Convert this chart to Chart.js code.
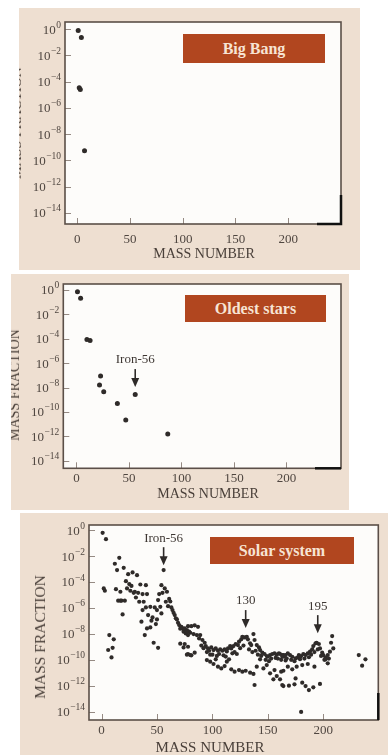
<!DOCTYPE html>
<html>
<head>
<meta charset="utf-8">
<script src="https://cdn.jsdelivr.net/npm/chart.js@4/dist/chart.umd.min.js"></script>
<style>
body{margin:0;background:#fff;width:388px;height:755px;overflow:hidden;position:relative;font-family:"Liberation Serif",serif}
.panel{position:absolute;background:#eedfd1;overflow:hidden}
.panel canvas{position:absolute;left:0;top:0}
.tag{position:absolute;background:#b1461f;color:#f7e4d4;font-weight:bold;font-size:16px;display:flex;align-items:center;justify-content:center}
.xt,.yt{position:absolute;font-size:14px;color:#4a403a;white-space:nowrap;transform:translate(-50%,-50%)}
.yt{transform:translate(-50%,-50%) rotate(-90deg)}
</style>
</head>
<body>

<div class="panel" id="p1" style="left:19px;top:8px;width:341px;height:262px">
  <canvas id="c1" width="341" height="262"></canvas>
  <div class="tag" style="left:164px;top:26px;width:142px;height:29px">Big Bang</div>
  <div class="xt" style="left:185px;top:246px">MASS NUMBER</div>
  <div class="yt" style="left:-2px;top:115px">MASS FRACTION</div>
</div>

<div class="panel" id="p2" style="left:11px;top:274px;width:338px;height:236px">
  <canvas id="c2" width="338" height="236"></canvas>
  <div class="tag" style="left:174px;top:21px;width:141px;height:27px">Oldest stars</div>
  <div class="xt" style="left:197px;top:220px">MASS NUMBER</div>
  <div class="yt" style="left:4px;top:111px">MASS FRACTION</div>
</div>

<div class="panel" id="p3" style="left:20px;top:513px;width:368px;height:242px">
  <canvas id="c3" width="368" height="242"></canvas>
  <div class="tag" style="left:190px;top:24px;width:144px;height:27px">Solar system</div>
  <div class="xt" style="left:190px;top:234px;font-size:15px">MASS NUMBER</div>
  <div class="yt" style="left:20px;top:124px;font-size:15.5px">MASS FRACTION</div>
</div>

<script>
// mass number + log10(mass fraction)
var bigBangMass = [1, 4, 2, 3, 7];
var bigBangLog = [-0.1, -0.64, -4.45, -4.6, -9.25];

var oldMass = [1, 4, 10, 13, 23, 22, 26, 39, 47, 56, 87];
var oldLog = [-0.14, -0.68, -4.05, -4.15, -7.05, -7.8, -8.34, -9.3, -10.66, -8.56, -11.8];

var solarMass = [
  1, 4, 2, 3, 6, 7, 9, 10, 11,
  12, 13, 14, 15, 16, 17, 17, 18, 19, 20, 21, 22, 23, 24, 25, 26, 27, 28, 29, 30,
  31, 32, 33, 34, 35, 36, 37, 37, 38, 39, 40, 40, 41, 41, 42, 44, 44, 45, 46, 47,
  48, 49, 50, 50, 51, 51, 52, 53, 54, 54, 55, 56, 57, 58, 59, 60, 61, 62, 63, 64,
  65, 66, 67, 68, 69, 70, 71, 72, 73, 74, 74, 75, 76, 77, 78, 78, 79, 71, 77, 81,
  75, 78, 81, 84, 87, 77, 80, 83, 86, 89, 88, 91, 93, 94, 96, 99, 101, 103, 105, 107,
  109, 111, 113, 114, 116, 117, 119, 121, 123, 124, 126, 127, 129, 131, 132, 134, 135, 137, 138, 140,
  142, 143, 145, 147, 149, 150, 152, 154, 156, 158, 160, 161, 163, 165,
  78, 75, 84, 80, 95, 98, 101, 103, 105, 108, 111, 113, 115, 117, 120, 124, 127, 130, 134, 137,
  138, 140, 143, 146, 149, 152, 155, 158, 161, 164, 156, 162,
  100, 104, 106, 110, 112, 118, 120, 122, 125, 128, 133, 136, 139, 141, 144, 148, 151, 153, 157, 159,
  162, 166, 90, 92, 95, 97, 98,
  164, 163, 166, 168, 170, 172, 175, 177, 178, 180, 182, 184, 186, 188, 190, 191, 193, 194, 196, 197,
  199, 200, 202, 204, 206, 207, 208, 209,
  167, 171, 174, 179, 183, 187, 189, 192, 195, 198, 201, 205,
  164, 168, 172, 176, 181, 186, 192, 204, 202, 175, 181, 184, 187, 191, 197, 163, 169, 174, 180,
  232, 238, 235
];
var solarLog = [
  -0.2, -0.69, -4.49, -4.67, -9.24, -8.09, -9.81, -9.07, -8.42,
  -2.59, -4.55, -3.08, -5.44, -2.13, -4.75, -5.44, -5.44, -6.5, -2.9, -5.44, -3.93, -4.49, -3.39, -4.16, -4.67, -4.3, -3.26, -4.83, -4.75,
  -5.19, -3.47, -4.83, -5.52, -4.19, -7.06, -4.93, -6.16, -5.52, -8.09, -4.24, -5.96, -4.93, -7.58, -6.55, -5.91, -7.5, -6.98, -6.73, -8.68,
  -5.96, -7.24, -6.88, -6.16, -9.07, -5.39, -4.93, -5.91, -4.24, -6.42, -4.83, -3.08, -4.49, -5.52, -4.75, -5.86, -5.3, -5.5, -5.96, -6.16,
  -6.37, -6.55, -6.8, -6.88, -7.14, -7.32, -7.6, -7.45, -7.58, -7.83, -9.04, -7.65, -7.96, -7.7, -8.09, -9.55, -7.83, -8.75, -9.6, -9.65,
  -7.58, -7.4, -7.4, -7.34, -7.45, -7.83, -7.91, -8.01, -8.09, -8.09, -8.35, -8.47, -8.68, -8.94, -9.12, -9.04, -9.25, -9.12, -9.3, -9.19,
  -9.3, -9.19, -9.35, -9.12, -8.94, -9.12, -8.94, -8.78, -8.86, -8.6, -8.42, -8.22, -8.27, -8.22, -8.42, -8.73, -8.86, -8.01, -8.47, -8.86,
  -9.04, -9.25, -9.45, -9.55, -9.71, -9.76, -9.63, -9.55, -9.5, -9.6, -9.5, -9.55, -9.63, -9.76,
  -8.99, -8.78, -9.45, -9.63, -10.02, -10.14, -10.32, -9.96, -10.53, -10.66, -10.48, -10.14, -9.96, -10.73, -10.91, -10.79, -10.91, -10.84, -10.99, -11.09,
  -11.94, -10.53, -9.96, -10.66, -10.4, -11.04, -11.5, -11.25, -11.5, -12.02, -10.79, -10.91,
  -9.6, -9.7, -9.55, -9.65, -9.75, -9.5, -9.4, -9.55, -9.1, -8.9, -9.2, -9.4, -9.3, -9.6, -9.7, -10.0, -10.1, -9.9, -9.85, -9.9,
  -10.0, -10.05, -8.9, -9.1, -9.4, -9.3, -9.6,
  -9.63, -9.76, -9.63, -9.5, -9.63, -9.76, -9.89, -9.81, -9.63, -9.71, -9.55, -9.63, -9.5, -9.37, -9.19, -8.94, -8.73, -8.68, -8.78, -9.12,
  -9.45, -9.63, -9.81, -9.63, -9.37, -8.68, -8.17, -9.12,
  -9.9, -10.0, -10.1, -9.95, -9.9, -9.8, -9.6, -9.4, -9.2, -9.7, -10.0, -9.9,
  -10.84, -10.53, -10.73, -10.53, -10.4, -10.32, -10.53, -10.27, -9.96, -11.43, -11.76, -12.02, -12.33, -12.12, -11.86, -11.94, -11.99, -11.89, -14.02,
  -9.63, -9.96, -10.45
];

var xTicks = [0, 50, 100, 150, 200];
var yTickExps = [0, -2, -4, -6, -8, -10, -12, -14];

var serif = '"Liberation Serif", serif';

var deco = {
  id: 'deco',
  beforeDatasetsDraw(chart) {
    var a = chart.chartArea, ctx = chart.ctx;
    ctx.save();
    ctx.fillStyle = '#fdfcfa';
    ctx.fillRect(a.left, a.top, a.width, a.height);
    ctx.restore();
  },
  afterDatasetsDraw(chart, args, o) {
    var ctx = chart.ctx, a = chart.chartArea, x = chart.scales.x, y = chart.scales.y;
    ctx.save();
    ctx.strokeStyle = '#958a83';
    ctx.lineWidth = 1;
    y.ticks.forEach(function(t){
      var py = Math.round(y.getPixelForValue(t.value)) + 0.5;
      ctx.beginPath(); ctx.moveTo(a.left, py); ctx.lineTo(a.left + 6, py); ctx.stroke();
    });
    x.ticks.forEach(function(t){
      var px = Math.round(x.getPixelForValue(t.value)) + 0.5;
      ctx.beginPath(); ctx.moveTo(px, a.bottom); ctx.lineTo(px, a.bottom - 6); ctx.stroke();
    });

    // y labels: "10" with a raised exponent
    ctx.fillStyle = '#4f4640';
    ctx.textBaseline = 'middle';
    ctx.textAlign = 'right';
    y.ticks.forEach(function(t){
      var py = y.getPixelForValue(t.value);
      var e = Math.round(Math.log10(t.value));
      var es = e < 0 ? '\u2212' + (-e) : String(e);
      var xr = a.left - 4;
      ctx.font = '9.5px ' + serif;
      ctx.fillText(es, xr, py - 4);
      var w = ctx.measureText(es).width;
      ctx.font = '13px ' + serif;
      ctx.fillText('10', xr - w - 0.5, py + 1);
    });

    ctx.strokeStyle = '#5b4f48';
    ctx.lineWidth = 1.6;
    ctx.strokeRect(a.left, a.top, a.width, a.height);

    if (o.corner) {
      ctx.strokeStyle = '#111';
      ctx.lineWidth = 2.5;
      ctx.beginPath();
      ctx.moveTo(a.right - o.corner[0], a.bottom);
      ctx.lineTo(a.right, a.bottom);
      ctx.lineTo(a.right, a.bottom - o.corner[1]);
      ctx.stroke();
    }

    (o.arrows || []).forEach(function(ar){
      var px = x.getPixelForValue(ar.mass);
      var tip = y.getPixelForValue(Math.pow(10, ar.tipLog));
      ctx.strokeStyle = '#2e2a28';
      ctx.fillStyle = '#2e2a28';
      ctx.lineWidth = 1.6;
      ctx.beginPath(); ctx.moveTo(px, tip - 18); ctx.lineTo(px, tip - 7); ctx.stroke();
      ctx.beginPath(); ctx.moveTo(px - 4, tip - 9); ctx.lineTo(px + 4, tip - 9); ctx.lineTo(px, tip); ctx.closePath(); ctx.fill();
      ctx.fillStyle = '#3e3733';
      ctx.font = '13px ' + serif;
      ctx.textAlign = 'center';
      ctx.textBaseline = 'middle';
      ctx.fillText(ar.label, px, tip - 27);
    });
    ctx.restore();
  }
};

function makePanel(id, masses, logs, p) {
  var pts = masses.map(function(m, i){ return {x: m, y: Math.pow(10, logs[i])}; });
  return new Chart(document.getElementById(id), {
    type: 'scatter',
    data: {datasets: [{
      data: pts,
      backgroundColor: '#2f2b29',
      borderWidth: 0,
      pointRadius: p.r
    }]},
    options: {
      responsive: false,
      animation: false,
      devicePixelRatio: 1,
      layout: {padding: {left: 0, top: p.top, right: p.right, bottom: 0}},
      plugins: {legend: {display: false}, tooltip: {enabled: false}, deco: {corner: p.corner, arrows: p.arrows}},
      scales: {
        x: {
          type: 'linear', min: p.xmin, max: p.xmax,
          grid: {display: false, drawTicks: false}, border: {display: false},
          afterBuildTicks: function(s){ s.ticks = xTicks.map(function(v){ return {value: v}; }); },
          afterFit: function(s){ s.height = p.xh; },
          ticks: {font: {family: serif, size: 13}, color: '#4f4640', padding: p.xpad, maxRotation: 0}
        },
        y: {
          type: 'logarithmic', min: Math.pow(10, p.ymin), max: Math.pow(10, p.ymax),
          grid: {display: false, drawTicks: false}, border: {display: false},
          afterBuildTicks: function(s){ s.ticks = yTickExps.map(function(e){ return {value: Math.pow(10, e)}; }); },
          afterFit: function(s){ s.width = p.yw; },
          ticks: {display: false}
        }
      }
    },
    plugins: [deco]
  });
}

makePanel('c1', bigBangMass, bigBangLog, {
  r: 2.5, top: 14, right: 19, xh: 46, yw: 46, xpad: 8,
  xmin: -11.5, xmax: 250, ymin: -14.84, ymax: 0.55,
  corner: [24, 29]
});

makePanel('c2', oldMass, oldLog, {
  r: 2.5, top: 10, right: 8, xh: 41.7, yw: 52.3, xpad: 2,
  xmin: -12.5, xmax: 252, ymin: -14.62, ymax: 0.49,
  corner: [26, 0],
  arrows: [{mass: 56, tipLog: -7.96, label: 'Iron-56'}]
});

makePanel('c3', solarMass, solarLog, {
  r: 2.1, top: 12, right: 9.7, xh: 35, yw: 69, xpad: 3,
  xmin: -11.3, xmax: 249.6, ymin: -14.64, ymax: 0.4,
  corner: [0, 27],
  arrows: [
    {mass: 56, tipLog: -2.7, label: 'Iron-56'},
    {mass: 130, tipLog: -7.55, label: '130'},
    {mass: 195, tipLog: -7.94, label: '195'}
  ]
});
</script>
</body>
</html>
